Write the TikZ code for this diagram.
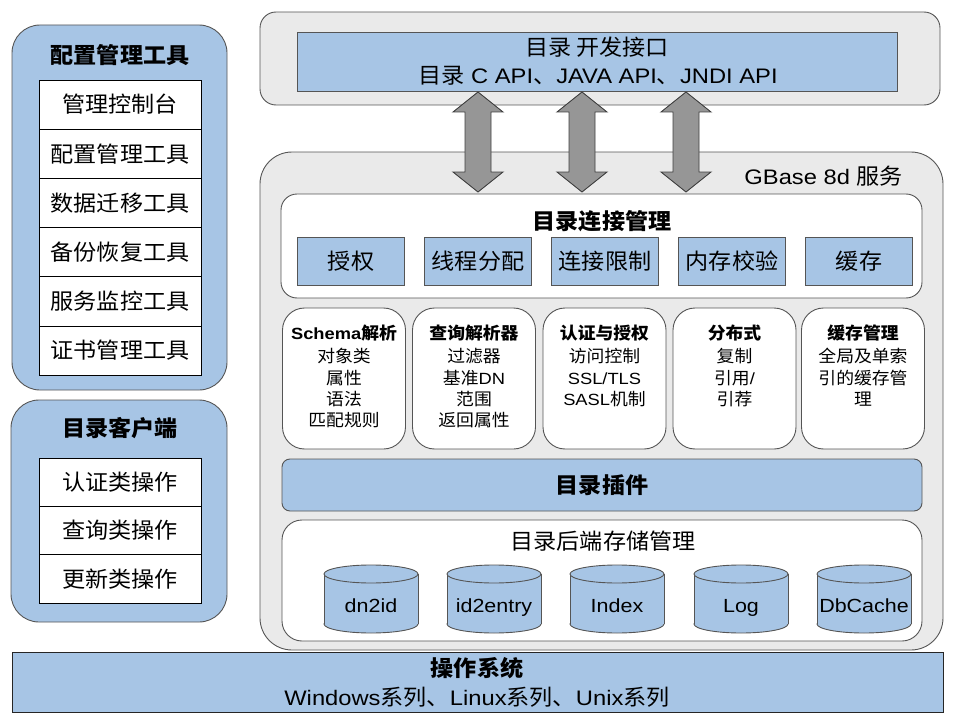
\documentclass[tikz,border=0pt]{standalone}
\usepackage{fontspec}
\setmainfont{Liberation Sans}[FakeStretch=1.13]
\newfontfamily\cjk{Noto Sans CJK SC}[FakeStretch=1.05,Scale=1.048]
\newfontfamily\latfont{Liberation Sans}[FakeStretch=1.13]
\newcommand\zh[1]{{\cjk #1}}
\newcommand\lat[1]{{\latfont #1}}
\definecolor{myblue}{RGB}{167,197,229}
\definecolor{pgray}{RGB}{234,234,234}
\definecolor{edge}{RGB}{85,85,85}
\definecolor{arrfill}{RGB}{150,150,150}
\begin{document}
\begin{tikzpicture}[x=1pt,y=-1pt,
  sz/.style 2 args={minimum width=#1pt,minimum height=#2pt},
  base/.style={inner sep=0pt,outer sep=0pt,line width=0.9pt},
  bluepanel/.style={base,draw=edge,fill=myblue,rounded corners=28pt},
  graypanel/.style={base,draw=edge,fill=pgray},
  cell/.style={base,draw=black,fill=white,font=\fontsize{21}{25}\selectfont\cjk},
  bluebox/.style={base,draw=edge,fill=myblue},
  whitebox/.style={base,draw=edge,fill=white},
  ttl/.style={font=\fontsize{21}{25}\selectfont\bfseries\cjk,inner sep=0pt},
  rtl/.style={font=\fontsize{21}{25}\selectfont\cjk,inner sep=0pt},
  txt/.style={font=\fontsize{21}{25}\selectfont,inner sep=0pt},
  mid/.style={font=\fontsize{16.2}{21.4}\selectfont\cjk,align=center,inner sep=0pt,anchor=north},
  dbl/.style={draw=black!75,fill=arrfill,line width=0.9pt,line join=miter},
  cylf/.style={draw=edge,fill=myblue,line width=0.9pt}
]
\useasboundingbox (0,0) rectangle (954,717);

% ---------- left: configuration tools
\node[bluepanel,sz={215}{365}] (cfg) at (119.5,207.5) {};
\node[ttl] (cfgt) at (120,55) {配置管理工具};
\foreach \i/\t in {0/管理控制台,1/配置管理工具,2/数据迁移工具,3/备份恢复工具,4/服务监控工具,5/证书管理工具}
  \node[cell,sz={162}{49.2}] (cfg\i) at (120,104.6+49.2*\i) {\t};

% ---------- left: directory client
\node[bluepanel,sz={216}{222}] (cli) at (119,511) {};
\node[ttl] (clit) at (120,428) {目录客户端};
\foreach \i/\t in {0/认证类操作,1/查询类操作,2/更新类操作}
  \node[cell,sz={162}{48.3}] (cli\i) at (120,482.2+48.3*\i) {\t};

% ---------- top: API
\node[graypanel,rounded corners=16pt,sz={680}{93}] (top) at (600,58.5) {};
\node[bluebox,sz={600}{59}] (api) at (597,61.5) {};
\node[rtl] (apit) at (597,47) {目录 开发接口};
\node[txt] (apil) at (598,76) {\zh{目录} C API\zh{、}JAVA API\zh{、}JNDI API};

% ---------- service panel
\node[graypanel,rounded corners=32pt,sz={683}{498}] (svc) at (601.5,401) {};
\node[txt,anchor=east] (svct) at (903,176) {GBase 8d \zh{服务}};

% connection management
\node[whitebox,rounded corners=16pt,sz={641}{104}] (conn) at (601.5,246) {};
\node[ttl] (connt) at (602,221) {目录连接管理};
\foreach \i/\x/\t in {1/351/授权,2/478/线程分配,3/605/连接限制,4/732/内存校验,5/859/缓存}
  \node[bluebox,sz={107}{48},font=\fontsize{21}{25}\selectfont\cjk] (c\i) at (\x,261) {\t};

% middle modules
\foreach \i/\x in {1/344,2/474,3/604.5,4/734.5,5/863}
  \node[whitebox,rounded corners=22pt,sz={123}{141}] (m\i) at (\x,378.5) {};
\node[mid] (m1t) at (344,325) {\textbf{\lat{Schema}解析}\\[1.5pt]对象类\\属性\\语法\\匹配规则};
\node[mid] (m2t) at (474,325) {\textbf{查询解析器}\\[1.5pt]过滤器\\基准\lat{DN}\\范围\\返回属性};
\node[mid] (m3t) at (604.5,325) {\textbf{认证与授权}\\[1.5pt]访问控制\\\lat{SSL/TLS}\\\lat{SASL}机制};
\node[mid] (m4t) at (734.5,325) {\textbf{分布式}\\[1.5pt]复制\\引用\lat{/}\\引荐};
\node[mid] (m5t) at (863,325) {\textbf{缓存管理}\\[1.5pt]全局及单索\\引的缓存管\\理};

% plugin
\node[bluebox,rounded corners=8pt,sz={640}{52},font=\fontsize{21}{25}\selectfont\bfseries\cjk] (plug) at (602,485) {目录插件};

% backend
\node[whitebox,rounded corners=20pt,sz={640}{121}] (back) at (602,580.5) {};
\node[rtl] (backt) at (603,541) {目录后端存储管理};
\foreach \n/\x/\t in {d1/371/dn2id,d2/494/id2entry,d3/617/Index,d4/741/Log,d5/864/DbCache}{
  \draw[cylf] (\x,624) ellipse [x radius=47,y radius=9];
  \fill[myblue] (\x-47,574) rectangle (\x+47,624);
  \draw[edge,line width=0.9pt] (\x-47,574) -- (\x-47,624) (\x+47,574) -- (\x+47,624);
  \draw[cylf] (\x,574) ellipse [x radius=47,y radius=9];
  \node[txt,font=\fontsize{19}{24}\selectfont,anchor=base] (\n) at (\x,612) {\t};
}

% ---------- OS bar
\node[bluebox,draw=black!85,sz={931}{60}] (os) at (477.5,682) {};
\node[ttl] (ost) at (477,668) {操作系统};
\node[txt] (osl) at (477,697) {Windows\zh{系列、}Linux\zh{系列、}Unix\zh{系列}};

% ---------- double arrows between API and connection management
\foreach \x in {478,582,686}
  \draw[dbl] (\x,92) -- (\x+25,112) -- (\x+13,112) -- (\x+13,172) -- (\x+25,172)
    -- (\x,192) -- (\x-25,172) -- (\x-13,172) -- (\x-13,112) -- (\x-25,112) -- cycle;
\end{tikzpicture}
\end{document}
